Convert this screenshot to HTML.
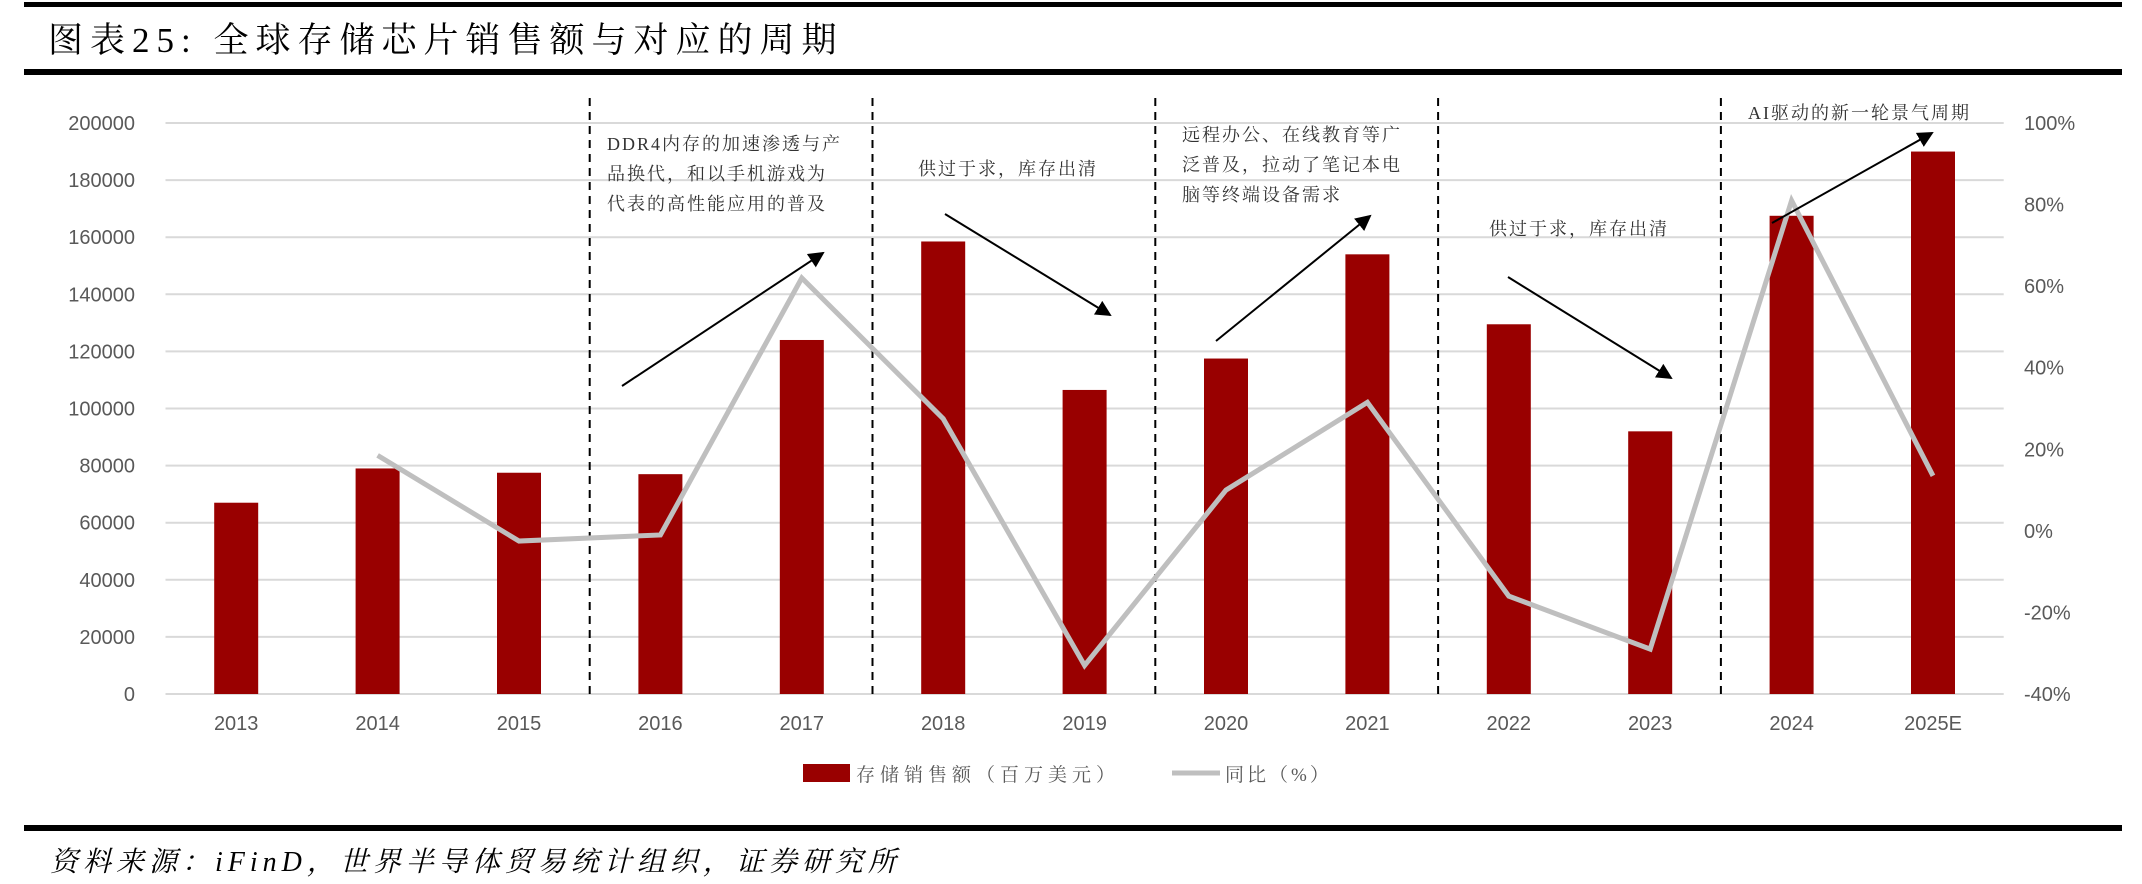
<!DOCTYPE html>
<html><head><meta charset="utf-8">
<style>
html,body{margin:0;padding:0;background:#fff;}
body{width:2142px;height:884px;overflow:hidden;position:relative;}
svg{position:absolute;left:0;top:0;}
</style></head>
<body>
<svg id="chart" width="2142" height="884" xmlns="http://www.w3.org/2000/svg">
  <rect x="24" y="2" width="2098" height="5" fill="#000"/>
  <text x="48" y="52" font-family="'Liberation Serif','Noto Serif CJK SC',serif" font-size="35" letter-spacing="7" fill="#000">图表25:  全球存储芯片销售额与对应的周期</text>
  <rect x="24" y="69" width="2098" height="6" fill="#000"/>
  <g id="grid"></g>
  <g id="vlines"></g>
  <g id="bars"></g>
  <g id="line"></g>
  <g id="axes"></g>
  <g id="annot" font-family="'Liberation Serif','Noto Serif CJK SC',serif" font-size="18" letter-spacing="2" fill="#333">
    <text x="607" y="150"><tspan x="607" y="150">DDR4内存的加速渗透与产</tspan><tspan x="607" y="180">品换代，和以手机游戏为</tspan><tspan x="607" y="210">代表的高性能应用的普及</tspan></text>
    <text x="918" y="175">供过于求，库存出清</text>
    <text x="1182" y="141"><tspan x="1182" y="141">远程办公、在线教育等广</tspan><tspan x="1182" y="171">泛普及，拉动了笔记本电</tspan><tspan x="1182" y="201">脑等终端设备需求</tspan></text>
    <text x="1489" y="235">供过于求，库存出清</text>
    <text x="1748" y="119">AI驱动的新一轮景气周期</text>
  </g>
  <defs><marker id="ah" markerWidth="8" markerHeight="8" refX="7" refY="4" orient="auto" markerUnits="strokeWidth"><path d="M0,0 L8,4 L0,8 z" fill="#000"/></marker></defs>
  <g stroke="#000" stroke-width="2" marker-end="url(#ah)">
    <line x1="622" y1="386" x2="823" y2="253"/>
    <line x1="945" y1="214" x2="1110" y2="315"/>
    <line x1="1216" y1="341" x2="1370" y2="216"/>
    <line x1="1508" y1="277" x2="1671" y2="378"/>
    <line x1="1772" y1="223" x2="1932" y2="133"/>
  </g>
  <g>
    <rect x="803" y="764" width="47" height="18" fill="#990000"/>
    <text x="856" y="781" font-family="'Liberation Serif','Noto Serif CJK SC',serif" font-size="19" letter-spacing="5" fill="#595959">存储销售额（百万美元）</text>
    <line x1="1172" y1="773" x2="1220" y2="773" stroke="#bfbfbf" stroke-width="5"/>
    <text x="1225" y="781" font-family="'Liberation Serif','Noto Serif CJK SC',serif" font-size="19" letter-spacing="3" fill="#595959">同比（%）</text>
  </g>
  <rect x="24" y="825" width="2098" height="6" fill="#000"/>
  <text x="50" y="871" font-family="'Liberation Serif','Noto Serif CJK SC',serif" font-size="28" letter-spacing="5" font-style="italic" fill="#000">资料来源：iFinD，世界半导体贸易统计组织，证券研究所</text>
</svg>
<script>
const categories = ["2013","2014","2015","2016","2017","2018","2019","2020","2021","2022","2023","2024","2025E"];
const sales = [67000,79000,77500,77000,124000,158500,106500,117500,154000,129500,92000,167500,190000];
const yoy = [null,18.5,-2.5,-1,62,27.5,-33,10,31.5,-16,-29,81,13.5];
const leftTicks = [0,20000,40000,60000,80000,100000,120000,140000,160000,180000,200000];
const rightTicks = [-40,-20,0,20,40,60,80,100];
const dividerAfter = [2,4,6,8,10];

const NS = "http://www.w3.org/2000/svg";
const X0 = 165.5, CW = 141.4, YT = 123, YB = 694, XR = X0 + CW*categories.length;
const yL = v => YB - (v/200000)*(YB-YT);
const yR = v => YB - ((v+40)/140)*(YB-YT);
const xC = i => X0 + CW*(i+0.5);
function mk(tag, attrs, parent){const e=document.createElementNS(NS,tag);for(const k in attrs)e.setAttribute(k,attrs[k]);document.getElementById(parent).appendChild(e);return e;}
const FONT = "'Liberation Sans',sans-serif";

leftTicks.forEach(t=>{
  const g = mk("line",{x1:X0,x2:XR,y1:yL(t),y2:yL(t),stroke:"#d9d9d9","stroke-width":2},"grid");
  
  
  const tx = mk("text",{x:135,y:yL(t)+7,"text-anchor":"end","font-family":FONT,"font-size":20,fill:"#595959"},"axes");
  tx.textContent = t;
  
  
});
rightTicks.forEach(t=>{
  const tx = mk("text",{x:2024,y:yR(t)+7,"font-family":FONT,"font-size":20,fill:"#595959"},"axes");
  tx.textContent = t + "%";
  
  
});
categories.forEach((c,i)=>{
  const tx = mk("text",{x:xC(i),y:730,"text-anchor":"middle","font-family":FONT,"font-size":20,fill:"#595959"},"axes");
  tx.textContent = c;
  
  
  const b = mk("rect",{x:xC(i)-22,y:yL(sales[i]),width:44,height:YB-yL(sales[i]),fill:"#990000"},"bars");
  
  
});
dividerAfter.forEach(k=>{
  const x = X0 + CW*(k+1);
  const l = mk("line",{x1:x,x2:x,y1:98,y2:697,stroke:"#000","stroke-width":2,"stroke-dasharray":"8,6"},"vlines");
  
  
});
const pts = [];
yoy.forEach((v,i)=>{ if(v!==null) pts.push(xC(i)+","+yR(v)); });
const pl = mk("polyline",{points:pts.join(" "),fill:"none",stroke:"#bfbfbf","stroke-width":5,"stroke-linejoin":"miter"},"line");


</script>
</body></html>
